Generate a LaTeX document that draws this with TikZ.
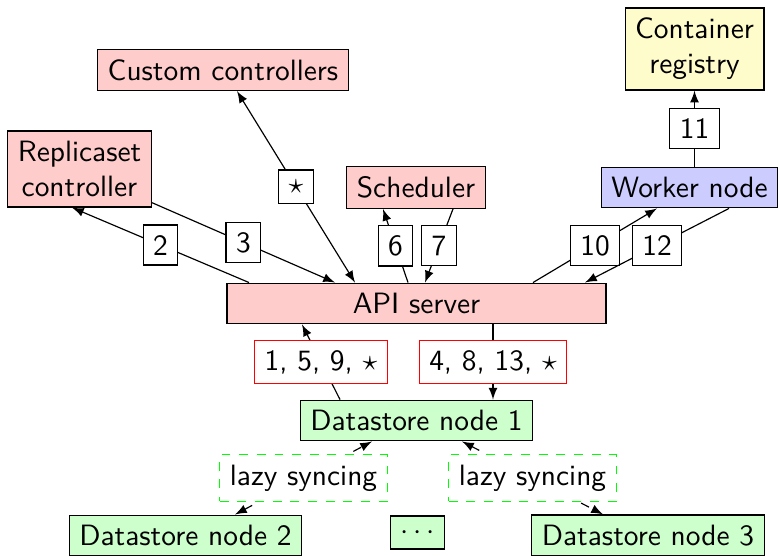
\documentclass[tikz,border=0pt]{standalone}
\usetikzlibrary{calc,arrows.meta}
\tikzset{
  comp/.style={draw, inner sep=3.4pt, minimum height=13.6pt, align=center},
  ctrl/.style={comp, fill=red!20},
  store/.style={comp, fill=green!20},
  lbl/.style={draw, fill=white, inner sep=3.4pt, minimum height=13.6pt},
  starlbl/.style={draw, fill=white, inner sep=3.4pt},
  reqlbl/.style={lbl, draw=red},
  synclbl/.style={lbl, draw=green, dashed},
  flow/.style={-latex},
  sync/.style={latex-latex, dashed},
}
\begin{document}
\begin{tikzpicture}[x=0.34pt, y=-0.34pt, font=\sffamily]
\useasboundingbox (0,0) rectangle (779,556);

% components
\node[ctrl] (cc) at (223,70) {Custom controllers};
\node[comp, fill=yellow!20] (reg) at (694.5,49) {Container\\registry};
\node[ctrl] (rs) at (79.5,169) {Replicaset\\controller};
\node[ctrl] (sch) at (416,187.5) {Scheduler};
\node[comp, fill=blue!20] (wn) at (689.5,187.5) {Worker node};
\node[ctrl, minimum width=128.9pt] (api) at (416.5,303.5) {API server};
\node[store] (ds1) at (416.5,420.5) {Datastore node 1};
\node[store] (ds2) at (185.5,535.5) {Datastore node 2};
\node[store, minimum height=0pt] (dots) at (417.5,532.5) {$\cdots$};
\node[store] (ds3) at (648,535.5) {Datastore node 3};

% controllers and scheduler
\draw[flow] ($(api.north)+(-167.5,0)$) -- node[lbl]{2} ($(rs.south)+(-7.5,0)$);
\draw[flow] ($(rs.south east)+(0,-5)$) -- node[lbl]{3} ($(api.north)+(-81.5,0)$);
\draw[latex-latex] ($(cc.south)+(14,0)$) -- node[starlbl]{$\star$} ($(api.north)+(-61.5,0)$);
\draw[flow] ($(api.north)+(-8.5,0)$) -- node[lbl]{6} ($(sch.south)+(-33,0)$);
\draw[flow] ($(sch.south)+(37,0)$) -- node[lbl]{7} ($(api.north)+(8.5,0)$);

% worker node
\draw[flow] ($(api.north)+(116.5,0)$) -- node[lbl]{10} ($(wn.south)+(-32.5,0)$);
\draw[flow] ($(wn.south)+(39.5,0)$) -- node[lbl]{12} ($(api.north)+(168.5,0)$);
\draw[flow] (reg.south |- wn.north) -- node[lbl]{11} (reg.south);

% datastore
\draw[flow] ($(ds1.north)+(-76.5,0)$) -- node[reqlbl]{1, 5, 9, $\star$} ($(api.south)+(-114.5,0)$);
\draw[flow] ($(api.south)+(76.5,0)$) -- node[reqlbl]{4, 8, 13, $\star$} ($(ds1.north)+(76.5,0)$);
\draw[sync] ($(ds2.north)+(49.5,0)$) -- node[synclbl]{lazy syncing} ($(ds1.south)+(-44.5,0)$);
\draw[sync] ($(ds1.south)+(45.5,0)$) -- node[synclbl]{lazy syncing} ($(ds3.north)+(-45,0)$);
\end{tikzpicture}
\end{document}
